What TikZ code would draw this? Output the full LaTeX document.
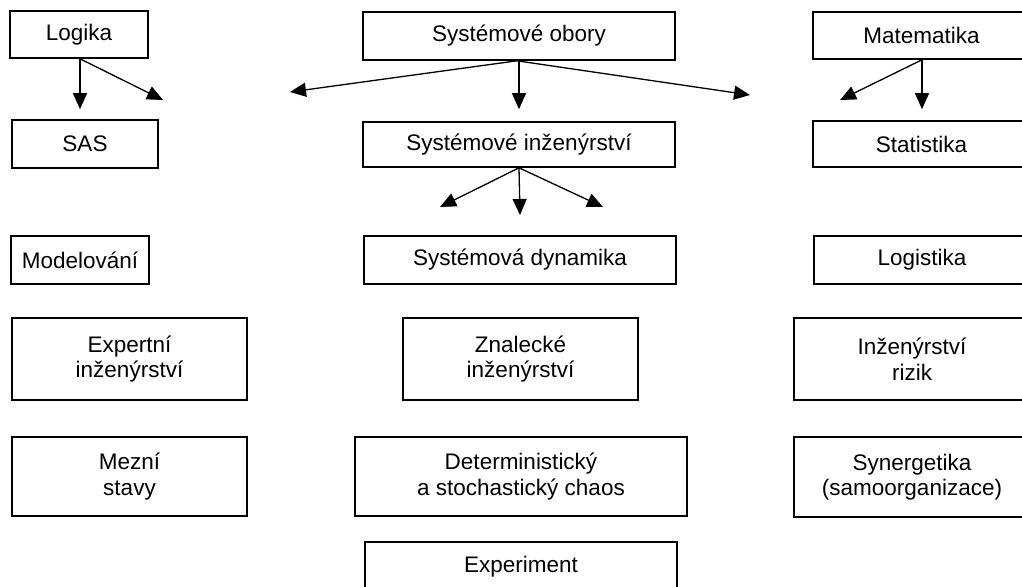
\documentclass[tikz,border=0pt]{standalone}
\usepackage{fontspec}
\setmainfont{Liberation Sans}
\usetikzlibrary{arrows.meta}
\begin{document}
\begin{tikzpicture}[x=1pt,y=-1pt,
  box/.style={draw=black, line width=1.6pt, rectangle, inner sep=0pt,
    align=center, font=\fontsize{22.5}{25.5}\selectfont},
  arr/.style={draw=black, line width=1.3pt,
    -{Triangle[length=16pt,width=14pt]}},
  gap/.style={shorten >=#1}]
\useasboundingbox (0,0) rectangle (1022,586);
\clip (0,0) rectangle (1022,586);
\fill[white] (0,0) rectangle (1022,586);

% left column
\node[box, minimum width=138pt, minimum height=47pt] (logika) at (79,34.5) {Logika};
\node[box, minimum width=146pt, minimum height=48pt] (sas) at (85,144) {SAS};
\node[box, minimum width=138pt, minimum height=48pt] (model) at (80,260) {Modelování};
\node[box, minimum width=235pt, minimum height=82pt] (expert) at (129.5,359) {Expertní\\inženýrství};
\node[box, minimum width=235pt, minimum height=79pt] (mezni) at (129.5,476.5) {Mezní\\stavy};

% middle column
\node[box, minimum width=312pt, minimum height=48pt] (obory) at (519,36) {Systémové obory};
\node[box, minimum width=312pt, minimum height=45pt] (sysinz) at (519,144.5) {Systémové inženýrství};
\node[box, minimum width=312pt, minimum height=48pt] (sysdyn) at (520,260) {Systémová dynamika};
\node[box, minimum width=235pt, minimum height=82pt] (znal) at (520.5,359) {Znalecké\\inženýrství};
\node[box, minimum width=332pt, minimum height=79pt] (determ) at (521,476.5) {Deterministický\\a stochastický chaos};
\node[box, minimum width=312pt, minimum height=50pt] (exper) at (521,567) {Experiment};

% right column
\node[box, minimum width=217pt, minimum height=47pt] (matem) at (921.5,35.5) {Matematika};
\node[box, minimum width=217pt, minimum height=46pt] (stat) at (921.5,144) {Statistika};
\node[box, minimum width=216pt, minimum height=48pt] (logist) at (922,260) {Logistika};
\node[box, minimum width=236pt, minimum height=82pt] (rizik) at (912,359) {Inženýrství\\rizik};
\node[box, minimum width=236pt, minimum height=80pt] (synerg) at (912,477) {Synergetika\\(samoorganizace)};

% free arrow ends
\coordinate (logR) at (163,100);
\coordinate (obL) at (290,92);
\coordinate (obR) at (750,95);
\coordinate (inL) at (440,207);
\coordinate (inD) at (520,215);
\coordinate (inR) at (603,207);
\coordinate (maL) at (840,100);

% connectors
\draw[arr, gap=10pt] ([xshift=1pt]logika.south) -- ([xshift=1pt]logika.south |- sas.north);
\draw[arr] ([xshift=1pt]logika.south) -- (logR);

\draw[arr] ([xshift=-2pt]obory.south) -- (obL);
\draw[arr] ([xshift=-2pt]obory.south) -- (obR);
\draw[arr, gap=12pt] (obory.south) -- (obory.south |- sysinz.north);

\draw[arr] (sysinz.south) -- (inL);
\draw[arr] (sysinz.south) -- (inD);
\draw[arr] (sysinz.south) -- (inR);

\draw[arr, gap=11pt] ([xshift=0.5pt]matem.south) -- ([xshift=0.5pt]matem.south |- stat.north);
\draw[arr] ([xshift=0.5pt]matem.south) -- (maL);
\end{tikzpicture}
\end{document}
